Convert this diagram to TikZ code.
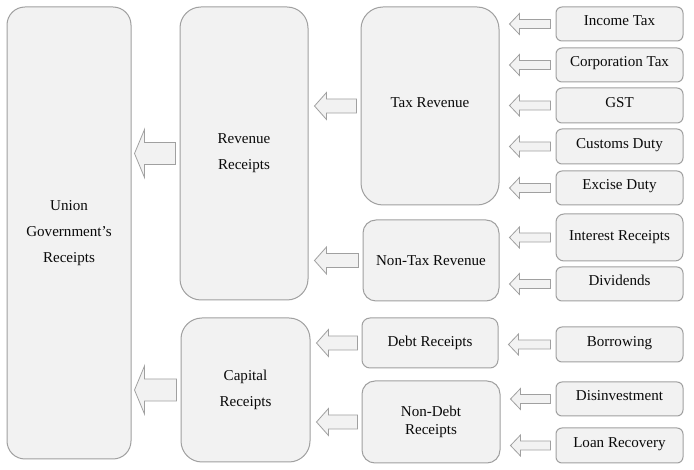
\documentclass[tikz,border=0pt]{standalone}
\usepackage{fontspec}
\setmainfont{Liberation Serif}
\usetikzlibrary{calc}
\definecolor{boxfill}{HTML}{F2F2F2}
\definecolor{boxline}{HTML}{A0A0A0}
\definecolor{txt}{HTML}{0A0A0A}
\tikzset{
  box/.style={draw=boxline, fill=boxfill, line width=0.75pt, align=center, text=txt, inner sep=1pt,
    font=\fontsize{11.3}{14}\selectfont},
  oneline/.style={text height=7.5pt, text depth=5.2pt},
  bigtext/.style={font=\fontsize{11.3}{19.5}\selectfont},
  blockarrow/.style={draw=boxline, fill=boxfill, line width=0.6pt, line join=miter},
}
% \bbox{name}{x0}{y0}{x1}{y1}{radius}{options}{text}
\newcommand\bbox[8]{%
  \node[box, #7, minimum width={(#4-#2)*0.75pt}, minimum height={(#5-#3)*0.75pt},
        rounded corners={#6*0.75pt}] (#1) at ({(#2+#4)/2},{(#3+#5)/2}) {#8};}
% \barrow{dst}{src}{tipgap}{tailgap}{headlen}{headhalf}{shafthalf}
\newcommand\barrow[7]{%
  \coordinate (#2-t) at ($(#1.east |- #2.center)+(#3,0)$);
  \coordinate (#2-e) at ($(#2.west)+(-#4,0)$);
  \draw[blockarrow] (#2-t) -- ($(#2-t)+(#5,-#6)$) -- ($(#2-t)+(#5,-#7)$)
    -- ($(#2-e)+(0,-#7)$) -- ($(#2-e)+(0,#7)$) -- ($(#2-t)+(#5,#7)$)
    -- ($(#2-t)+(#5,#6)$) -- cycle;}
\begin{document}
\begin{tikzpicture}[x=0.75pt,y=-0.75pt]
\useasboundingbox (0,0) rectangle (694,470);
\fill[white] (0,0) rectangle (694,470);
% left column
\bbox{union}{7}{7}{131}{459}{18}{bigtext}{Union\\Government’s\\Receipts}
% second column
\bbox{rev}{180}{7}{308}{300}{21}{bigtext}{Revenue\\Receipts}
\bbox{cap}{181}{318}{310}{462}{21}{bigtext}{Capital\\Receipts}
% third column
\bbox{tax}{361}{7}{499}{205}{22}{oneline}{Tax Revenue}
\bbox{nontax}{363}{220}{499}{301}{13}{}{Non-Tax Revenue}
\bbox{debt}{362}{318}{498}{368}{8}{}{Debt Receipts}
\bbox{nondebt}{362}{381}{500}{463}{13}{font=\fontsize{11.3}{13.5}\selectfont}{Non-Debt\\Receipts}
% right column
\bbox{inc}{556}{7}{683}{41}{6}{oneline}{Income Tax}
\bbox{corp}{556}{48}{683}{82}{6}{oneline}{Corporation Tax}
\bbox{gst}{556}{88}{683}{123}{6}{oneline}{GST}
\bbox{cust}{556}{129}{683}{164}{6}{oneline}{Customs Duty}
\bbox{exc}{556}{171}{683}{205}{6}{oneline}{Excise Duty}
\bbox{intr}{556}{214}{683}{261}{8}{}{Interest Receipts}
\bbox{div}{556}{267}{683}{301}{6}{oneline}{Dividends}
\bbox{borr}{556}{327}{683}{362}{6}{oneline}{Borrowing}
\bbox{disinv}{556}{382}{683}{416}{6}{oneline}{Disinvestment}
\bbox{loan}{556}{428}{683}{463}{6}{oneline}{Loan Recovery}
% arrows: right column -> third column
\barrow{tax}{inc}{10}{5}{10}{10.5}{4.5}
\barrow{tax}{corp}{10}{5}{10}{10.5}{4.5}
\barrow{tax}{gst}{10}{5}{10}{10.5}{4.5}
\barrow{tax}{cust}{10}{5}{10}{10.5}{4.5}
\barrow{tax}{exc}{10}{5}{10}{10.5}{4.5}
\barrow{nontax}{intr}{10}{5}{10}{10.5}{4.5}
\barrow{nontax}{div}{10}{5}{10}{10.5}{4.5}
\barrow{debt}{borr}{10}{5}{10}{10.5}{4.5}
\barrow{nondebt}{disinv}{10}{5}{10}{10.5}{4.5}
\barrow{nondebt}{loan}{10}{5}{10}{10.5}{4.5}
% arrows: third column -> second column
\barrow{rev}{tax}{6}{4}{12}{13.5}{7}
\barrow{rev}{nontax}{6}{4}{12}{13.5}{7}
\barrow{cap}{debt}{6}{4}{12}{13.5}{7}
\barrow{cap}{nondebt}{6}{4}{12}{13.5}{7}
% arrows: second column -> first column
\barrow{union}{rev}{3}{4}{10}{24}{11}
\barrow{union}{cap}{3}{4}{10}{24}{11}
\end{tikzpicture}
\end{document}
